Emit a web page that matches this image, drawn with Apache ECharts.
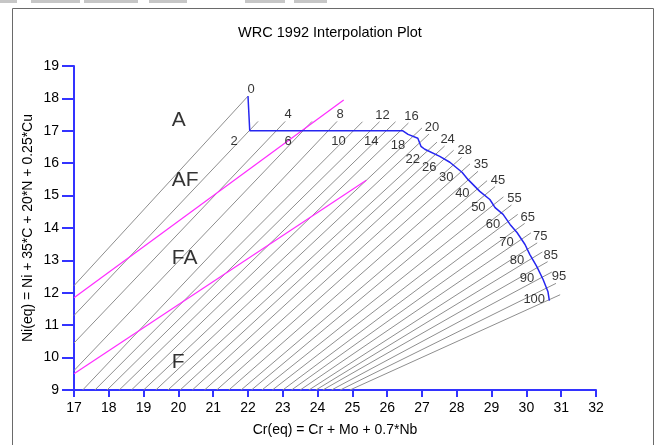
<!DOCTYPE html>
<html>
<head>
<meta charset="utf-8">
<script src="https://cdn.jsdelivr.net/npm/echarts@6/dist/echarts.min.js"></script>
<style>
html, body { margin: 0; padding: 0; background: #fff; }
#chart { width: 660px; height: 445px; }
</style>
</head>
<body>
<div id="chart"></div>
<script>
// ferrite number of each iso-line
var fnValues = [0, 2, 4, 6, 8, 10, 12, 14, 16, 18, 20, 22, 24, 26, 28, 30,
  35, 40, 45, 50, 55, 60, 65, 70, 75, 80, 85, 90, 95, 100];
// lower-left end of each iso-line (Cr(eq), Ni(eq))
var lineStartCr = [17, 17, 17, 17, 17.25, 17.6, 17.95, 18.3, 18.65, 19.0, 19.35, 19.7, 20.05, 20.4, 20.75, 21.1,
  21.45, 21.8, 22.1, 22.4, 22.7, 23.0, 23.25, 23.5, 23.75, 23.95, 24.15, 24.4, 24.65, 24.93];
var lineStartNi = [12.22, 11.3, 10.45, 9.6, 9, 9, 9, 9, 9, 9, 9, 9, 9, 9, 9, 9,
  9, 9, 9, 9, 9, 9, 9, 9, 9, 9, 9, 9, 9, 9];
// upper-right end of each iso-line
var lineEndCr = [22.0, 22.29, 23.07, 23.84, 24.56, 25.29, 25.78, 26.24, 26.61, 27.0, 27.2, 27.43, 27.65, 27.91, 28.14, 28.38,
  28.61, 28.87, 29.1, 29.34, 29.57, 29.75, 29.95, 30.13, 30.31, 30.46, 30.61, 30.73, 30.85, 30.97];
var lineEndNi = [18.07, 17.29, 17.29, 17.29, 17.29, 17.28, 17.28, 17.28, 17.24, 17.09, 16.9, 16.65, 16.53, 16.4, 16.18, 15.98,
  15.75, 15.46, 15.28, 14.96, 14.71, 14.42, 14.14, 13.85, 13.54, 13.26, 12.96, 12.64, 12.29, 11.94];

// blue boundary curve
var boundaryCr = [22.0, 22.05, 26.31, 26.45, 26.6, 26.88, 26.97, 27.08, 27.51, 27.8, 28.15, 28.32, 28.66,
  28.95, 29.1, 29.33, 29.53, 29.73, 29.96, 30.1, 30.3, 30.48, 30.62, 30.66];
var boundaryNi = [18.07, 17.0, 17.0, 17.0, 16.89, 16.77, 16.52, 16.43, 16.21, 16.03, 15.72, 15.5, 15.13,
  14.88, 14.63, 14.42, 14.11, 13.86, 13.49, 13.18, 12.81, 12.41, 12.03, 11.76];

// magenta phase boundaries
var upperPhaseCr = [17, 24.75];
var upperPhaseNi = [11.85, 17.95];
var lowerPhaseCr = [17, 25.4];
var lowerPhaseNi = [9.5, 15.47];

// region names
var regionNames = ['A', 'AF', 'FA', 'F'];
var regionCr = [19.81, 19.81, 19.81, 19.81];
var regionNi = [17.34, 15.49, 13.08, 9.85];

var FONT = 'Liberation Sans, Arial, sans-serif';
var AXIS_BLUE = '#3333ff';
var GRID = { left: 74, right: 64, top: 66, bottom: 55 };
var W = 660, H = 445;
// pixels per axis unit, used only to measure the boundary's slope on screen
var pxX = (W - GRID.left - GRID.right) / 15;
var pxY = (H - GRID.top - GRID.bottom) / 10;

function zip(xs, ys) {
  return xs.map(function (x, i) { return [x, ys[i]]; });
}

// where segment p1-p2 meets segment q1-q2
function segCross(p1, p2, q1, q2) {
  var rx = p2[0] - p1[0], ry = p2[1] - p1[1];
  var sx = q2[0] - q1[0], sy = q2[1] - q1[1];
  var den = rx * sy - ry * sx;
  if (Math.abs(den) < 1e-12) return null;
  var qpx = q1[0] - p1[0], qpy = q1[1] - p1[1];
  var t = (qpx * sy - qpy * sx) / den;
  var u = (qpx * ry - qpy * rx) / den;
  if (t < -0.02 || t > 1.02 || u < -0.02 || u > 1.02) return null;
  return [p1[0] + t * rx, p1[1] + t * ry];
}

var boundary = zip(boundaryCr, boundaryNi);

function crossingOnBoundary(a, b) {
  // walk back from the far end so a line through the corner picks the flat part
  for (var k = boundary.length - 2; k >= 0; k--) {
    var c = segCross(a, b, boundary[k], boundary[k + 1]);
    if (c) {
      var dx = (boundary[k + 1][0] - boundary[k][0]) * pxX;
      var dy = (boundary[k + 1][1] - boundary[k][1]) * pxY;
      var cos2 = dx * dx / (dx * dx + dy * dy);
      return { point: c, cos2: cos2 };
    }
  }
  return { point: b, cos2: 0 };
}

var series = [];
var upLabels = [];
var downLabels = [];

fnValues.forEach(function (fn, i) {
  var a = [lineStartCr[i], lineStartNi[i]];
  var b = [lineEndCr[i], lineEndNi[i]];
  series.push({
    type: 'line',
    data: [a, b],
    symbol: 'none',
    silent: true,
    z: 1,
    lineStyle: { color: '#8e8e8e', width: 1 }
  });
  if (i % 2 === 0) {
    upLabels.push({ name: String(fn), value: b });
  } else {
    // label sits under the crossing where the boundary is flat, beside it where it is steep
    var c = crossingOnBoundary(a, b);
    downLabels.push({
      name: String(fn),
      value: c.point,
      label: { offset: [-15, 12 * c.cos2 - 1] }
    });
  }
});

series.push({
  type: 'line',
  data: zip(upperPhaseCr, upperPhaseNi),
  symbol: 'none', silent: true, z: 2,
  lineStyle: { color: '#ff2cff', width: 1.2 }
});
series.push({
  type: 'line',
  data: zip(lowerPhaseCr, lowerPhaseNi),
  symbol: 'none', silent: true, z: 2,
  lineStyle: { color: '#ff2cff', width: 1.2 }
});
series.push({
  type: 'line',
  data: boundary,
  symbol: 'none', silent: true, z: 3,
  lineStyle: { color: '#2626f0', width: 1.5 }
});

series.push({
  type: 'scatter',
  data: upLabels,
  symbolSize: 0, silent: true, z: 4,
  label: {
    show: true, position: 'top', distance: 2, offset: [3, 2],
    formatter: '{b}', color: '#000', fontSize: 13, fontFamily: FONT
  }
});
series.push({
  type: 'scatter',
  data: downLabels,
  symbolSize: 0, silent: true, z: 4,
  label: {
    show: true, position: 'inside',
    formatter: '{b}', color: '#000', fontSize: 13, fontFamily: FONT
  }
});
series.push({
  type: 'scatter',
  data: regionNames.map(function (n, i) { return { name: n, value: [regionCr[i], regionNi[i]] }; }),
  symbolSize: 0, silent: true, z: 4,
  label: {
    show: true, position: 'right', distance: 0,
    formatter: '{b}', color: '#000', fontSize: 21, fontFamily: FONT
  }
});

// grey strip left at the top edge of the captured window
var strips = [[0, 17], [31, 80], [84, 138], [149, 187], [245, 285], [294, 327]].map(function (s) {
  return {
    type: 'rect', silent: true,
    shape: { x: s[0], y: 0, width: s[1] - s[0], height: 3 },
    style: { fill: '#c6c6c6' }
  };
});

var chart = echarts.init(document.getElementById('chart'));
chart.setOption({
  animation: false,
  backgroundColor: '#fff',
  title: {
    text: 'WRC 1992 Interpolation Plot',
    left: 'center',
    top: 20,
    textStyle: { fontSize: 14.5, fontWeight: 'normal', color: '#000', fontFamily: FONT }
  },
  graphic: [{
    type: 'rect',
    shape: { x: 12.5, y: 8.5, width: 641, height: 460 },
    style: { fill: null, stroke: '#6a6a6a', lineWidth: 1 },
    silent: true
  }].concat(strips),
  grid: GRID,
  xAxis: {
    type: 'value', min: 17, max: 32, interval: 1,
    name: 'Cr(eq) = Cr + Mo + 0.7*Nb',
    nameLocation: 'middle', nameGap: 33,
    nameTextStyle: { fontSize: 14, color: '#000', fontFamily: FONT },
    axisLine: { show: true, onZero: false, lineStyle: { color: AXIS_BLUE, width: 2 } },
    axisTick: { show: true, length: 7, lineStyle: { color: AXIS_BLUE, width: 2 } },
    axisLabel: { color: '#000', fontSize: 14, margin: 11, fontFamily: FONT },
    splitLine: { show: false }
  },
  yAxis: {
    type: 'value', min: 9, max: 19, interval: 1,
    name: 'Ni(eq) = Ni + 35*C + 20*N + 0.25*Cu',
    nameLocation: 'middle', nameGap: 39, nameMoveOverlap: false,
    nameTextStyle: { fontSize: 14, color: '#000', fontFamily: FONT },
    axisLine: { show: true, onZero: false, lineStyle: { color: AXIS_BLUE, width: 2 } },
    axisTick: { show: true, length: 12, lineStyle: { color: AXIS_BLUE, width: 2 } },
    axisLabel: { color: '#000', fontSize: 14, margin: 15, fontFamily: FONT },
    splitLine: { show: false }
  },
  series: series
});
</script>
</body>
</html>
